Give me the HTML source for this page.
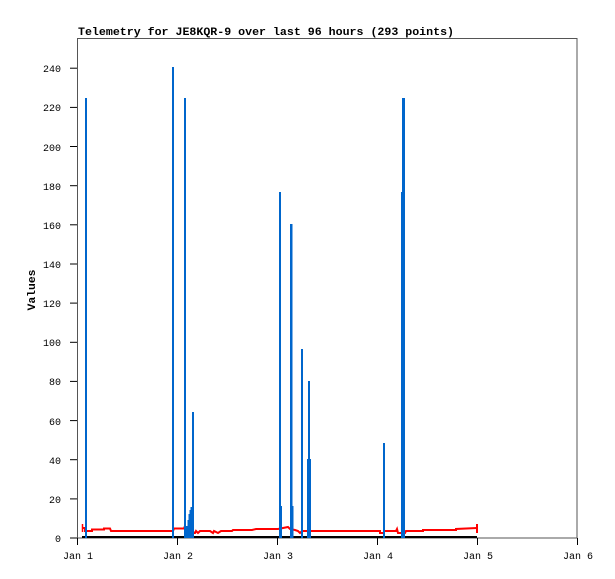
<!DOCTYPE html>
<html><head><style>
html,body{margin:0;padding:0;background:#fff;}
svg{display:block;}
text{font-family:"Liberation Mono","DejaVu Sans Mono",monospace;font-size:10px;fill:#000;}
.b{font-weight:bold;font-size:11.4px;}
</style></head><body>
<svg width="615" height="579" xmlns="http://www.w3.org/2000/svg">
<rect x="0" y="0" width="615" height="579" fill="#fff"/>
<text x="78" y="35" class="b" textLength="376" lengthAdjust="spacingAndGlyphs">Telemetry for JE8KQR-9 over last 96 hours (293 points)</text>
<rect x="77.5" y="38.5" width="499.5" height="499.5" fill="none" stroke="#555" stroke-width="1"/>
<g stroke="#000" stroke-width="1">
<line x1="70" y1="538" x2="77" y2="538"/><line x1="70" y1="498.9" x2="77" y2="498.9"/><line x1="70" y1="459.7" x2="77" y2="459.7"/><line x1="70" y1="420.6" x2="77" y2="420.6"/><line x1="70" y1="381.4" x2="77" y2="381.4"/><line x1="70" y1="342.3" x2="77" y2="342.3"/><line x1="70" y1="303.1" x2="77" y2="303.1"/><line x1="70" y1="264" x2="77" y2="264"/><line x1="70" y1="224.8" x2="77" y2="224.8"/><line x1="70" y1="185.7" x2="77" y2="185.7"/><line x1="70" y1="146.5" x2="77" y2="146.5"/><line x1="70" y1="107.4" x2="77" y2="107.4"/><line x1="70" y1="68.2" x2="77" y2="68.2"/>
<line x1="77.5" y1="538" x2="77.5" y2="545"/><line x1="177.5" y1="538" x2="177.5" y2="545"/><line x1="277.5" y1="538" x2="277.5" y2="545"/><line x1="377.5" y1="538" x2="377.5" y2="545"/><line x1="477.5" y1="538" x2="477.5" y2="545"/><line x1="577.5" y1="538" x2="577.5" y2="545"/>
</g>
<g text-anchor="end">
<text x="61" y="542">0</text><text x="61" y="503">20</text><text x="61" y="464">40</text><text x="61" y="425">60</text><text x="61" y="385">80</text><text x="61" y="346">100</text><text x="61" y="307">120</text><text x="61" y="268">140</text><text x="61" y="229">160</text><text x="61" y="190">180</text><text x="61" y="151">200</text><text x="61" y="111">220</text><text x="61" y="72">240</text>
</g>
<g text-anchor="middle">
<text x="78" y="559">Jan 1</text><text x="178" y="559">Jan 2</text><text x="278" y="559">Jan 3</text><text x="378" y="559">Jan 4</text><text x="478" y="559">Jan 5</text><text x="578" y="559">Jan 6</text>
</g>
<text x="0" y="0" transform="translate(35,290) rotate(-90)" text-anchor="middle" class="b">Values</text>
<line x1="82" y1="537" x2="477" y2="537" stroke="#000" stroke-width="2"/>
<polyline fill="none" stroke="#f00" stroke-width="2" points="82,528 85,528 85,531 92,531 92,529.5 104,529.5 104,528.5 110,528.5 111,531 173,531 174,528.5 184,528.5 185,526 186,530 189,530 190,528 192,530 194,533 195,533 196,531 198,533 200,531 210,531 213,533 214,531 218,533 221,531 232,531 233,530 252,530 256,529 275,529 278,529 283,528 288,527 290,529 295,530 298,531 300,533 302,531 330,531 380,531 380,533 384,533 384,531 396,531 397,529 398,533 405,533 406,531 423,531 423,530 456,530 456,529 477,528"/>
<line x1="82.5" y1="524" x2="82.5" y2="532" stroke="#f00" stroke-width="1.5"/>
<line x1="477" y1="524" x2="477" y2="533" stroke="#f00" stroke-width="2"/>
<g fill="#0066cc">
<rect x="85" y="98" width="2" height="440"/>
<rect x="172" y="67" width="2" height="471"/>
<rect x="184" y="98" width="2" height="440"/>
<rect x="186" y="526" width="1.5" height="12"/>
<rect x="187.5" y="520" width="1" height="18"/>
<rect x="188.5" y="514" width="1" height="24"/>
<rect x="189.5" y="510" width="1" height="28"/>
<rect x="190.5" y="507" width="1.5" height="31"/>
<rect x="192" y="412" width="2" height="126"/>
<rect x="279" y="192" width="2" height="346"/>
<rect x="281" y="506" width="1" height="32"/>
<rect x="290" y="224" width="2.5" height="314"/>
<rect x="292.5" y="506" width="1" height="32"/>
<rect x="301" y="349" width="2" height="189"/>
<rect x="307" y="459" width="4" height="79"/>
<rect x="308" y="381" width="2" height="157"/>
<rect x="383" y="443" width="2" height="95"/>
<rect x="401" y="192" width="4" height="346"/>
<rect x="402" y="98" width="3" height="440"/>
</g>
</svg>
</body></html>
